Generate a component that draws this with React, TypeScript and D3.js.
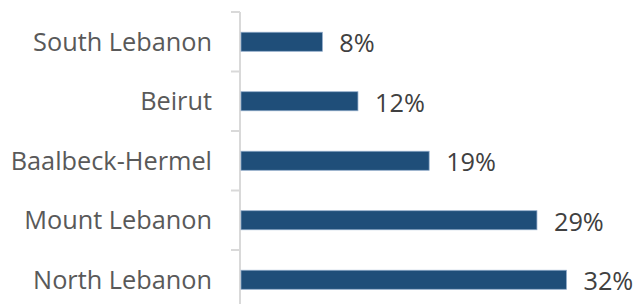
import React from "react";
import * as d3 from "d3";

const categories = ["South Lebanon", "Beirut", "Baalbeck-Hermel", "Mount Lebanon", "North Lebanon"];
const values = [8.0, 11.5, 18.5, 29.1, 32.0];
const valueLabels = ["8%", "12%", "19%", "29%", "32%"];

const W = 638;
const H = 304;
const FONT = "'Open Sans', 'Noto Sans', sans-serif";

export default function App() {
  const y = d3
    .scaleBand<string>()
    .domain(categories)
    .range([12, 12 + 5 * 59.5])
    .paddingInner(0.68)
    .paddingOuter(0.34);
  const x = d3.scaleLinear().domain([0, 35]).range([241, 241 + 35 * 10.17]);
  const step = y.step();
  const y0 = y.range()[0];
  const ticks = d3.range(categories.length + 1).map((i) => y0 + i * step);

  return (
    <svg
      width={W}
      height={H}
      style={{ position: "absolute", left: 0, top: 0, background: "#fff" }}
    >
      <line x1={240} x2={240} y1={y0} y2={H} stroke="#D9D9D9" strokeWidth={2} />
      {ticks.map((t, i) => (
        <line key={i} x1={231} x2={240} y1={t} y2={t} stroke="#D9D9D9" strokeWidth={2} />
      ))}
      {categories.map((c, i) => {
        const by = y(c)!;
        const bw = y.bandwidth();
        return (
          <g key={c}>
            <rect
              x={x(0)}
              y={by}
              width={x(values[i]) - x(0)}
              height={bw}
              fill="#1F4E79"
              stroke="#8EA9C9"
              strokeWidth={0.75}
            />
            <text
              x={212}
              y={by + bw / 2}
              dy="0.36em"
              textAnchor="end"
              fontFamily={FONT}
              fontSize={25.3}
              fill="#595959"
            >
              {c}
            </text>
            <text
              x={x(values[i]) + 17}
              y={by + bw / 2 + 1.5}
              dy="0.36em"
              textAnchor="start"
              fontFamily={FONT}
              fontSize={25.3}
              fill="#404040"
            >
              {valueLabels[i]}
            </text>
          </g>
        );
      })}
    </svg>
  );
}
